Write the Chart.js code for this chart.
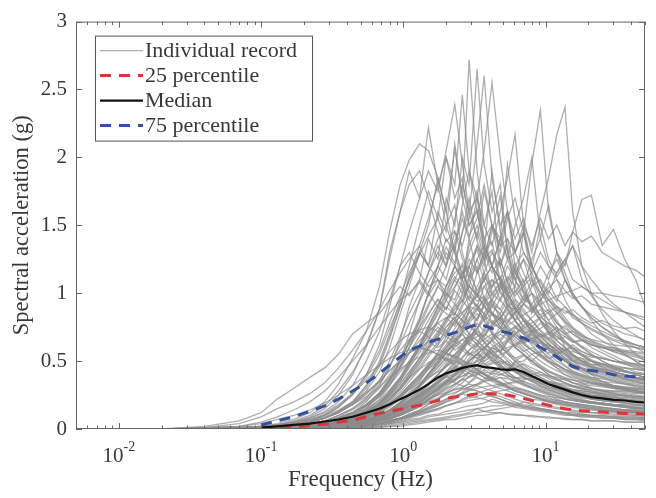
<!DOCTYPE html>
<html>
<head>
<meta charset="utf-8">
<script src="https://cdn.jsdelivr.net/npm/chart.js@4/dist/chart.umd.min.js"></script>
<style>
  html, body { margin: 0; padding: 0; background: #ffffff; }
  #wrap { width: 656px; height: 498px; }
</style>
</head>
<body>
<div id="wrap"><canvas id="c" width="656" height="498"></canvas></div>
<script>
// Frequencies (Hz) at which every individual record is sampled
const freq = [0.02,0.04,0.07,0.1,0.13,0.17,0.22,0.28,0.35,0.44,
  0.55,0.68,0.8,0.95,1.1,1.3,1.5,1.75,2.0,2.3,
  2.6,2.9,3.3,3.7,4.2,4.8,5.4,6.1,7.0,8.0,
  9.2,10.5,12,13.7,15.5,18,21,25,30,36,
  43,50];

// Spectral acceleration (g) of each individual record
const rec01 = [0,0,0,0.01,0.02,0.03,0.05,0.08,0.12,0.18, 0.28,0.42,0.6,0.85,1.05,1.3,1.2,1.6,1.45,2.1, 1.7,2.72,1.9,1.5,1.75,1.2,1.35,1.0,1.1,0.85, 0.95,0.7,0.75,0.6,0.55,0.5,0.45,0.42,0.4,0.37, 0.35,0.33];
const rec02 = [0,0,0,0.01,0.01,0.02,0.03,0.05,0.08,0.12, 0.2,0.32,0.45,0.65,0.9,1.1,1.4,1.25,1.7,1.5, 2.0,1.8,2.65,1.95,1.6,1.8,1.3,1.1,0.95,1.0, 0.8,0.7,0.6,0.55,0.5,0.45,0.4,0.35,0.32,0.3, 0.28,0.26];
const rec03 = [0,0,0,0,0.01,0.02,0.03,0.04,0.06,0.1, 0.15,0.25,0.35,0.5,0.7,0.95,1.15,1.35,1.2,1.55, 1.8,1.6,2.1,2.6,1.85,1.5,1.6,1.2,1.0,0.9, 0.8,0.75,0.65,0.6,0.55,0.5,0.5,0.45,0.42,0.4, 0.38,0.36];
const rec04 = [0,0,0,0,0.01,0.01,0.02,0.04,0.06,0.09, 0.14,0.22,0.32,0.45,0.6,0.8,1.0,1.2,1.4,1.3, 1.65,1.9,1.7,2.05,2.55,2.0,1.6,1.3,1.45,1.1, 0.9,0.85,0.75,0.7,0.65,0.6,0.55,0.5,0.46,0.43, 0.4,0.38];
const rec05 = [0,0,0,0.01,0.02,0.03,0.05,0.08,0.13,0.2, 0.32,0.5,0.7,0.95,1.2,1.5,1.75,1.55,2.0,1.8, 2.46,1.9,1.6,1.4,1.5,1.2,1.0,0.9,0.8,0.7, 0.65,0.6,0.55,0.5,0.45,0.42,0.38,0.35,0.32,0.3, 0.28,0.27];
const rec06 = [0,0,0,0.01,0.02,0.04,0.06,0.1,0.16,0.26, 0.4,0.62,0.9,1.2,1.45,1.7,1.9,1.75,2.05,2.39, 1.95,1.6,1.7,1.35,1.2,1.0,0.95,0.8,0.7,0.62, 0.55,0.5,0.45,0.4,0.37,0.34,0.3,0.28,0.26,0.24, 0.22,0.21];
const rec07 = [0,0,0.01,0.02,0.04,0.07,0.12,0.2,0.33,0.52, 0.72,1.05,1.45,1.8,1.98,2.1,2.05,1.85,1.6,1.3, 1.05,0.9,0.75,0.65,0.55,0.48,0.42,0.38,0.34,0.3, 0.27,0.25,0.22,0.2,0.19,0.18,0.17,0.16,0.15,0.14, 0.13,0.12];
const rec08 = [0,0,0,0.01,0.03,0.05,0.09,0.15,0.25,0.4, 0.62,0.88,1.3,1.6,1.9,1.7,2.22,1.8,1.5,1.65, 1.3,1.1,1.2,0.95,0.85,0.75,0.7,0.6,0.55,0.5, 0.45,0.4,0.37,0.34,0.32,0.3,0.28,0.26,0.24,0.22, 0.21,0.2];
const rec09 = [0,0,0,0,0.01,0.02,0.03,0.05,0.08,0.12, 0.18,0.26,0.36,0.5,0.65,0.8,1.0,1.15,1.3,1.2, 1.45,1.6,1.4,1.75,1.5,1.3,1.55,1.7,1.45,1.95, 2.35,1.6,1.3,1.1,1.0,0.9,0.8,0.7,0.62,0.55, 0.5,0.45];
const rec10 = [0,0,0,0,0,0.01,0.02,0.03,0.05,0.08, 0.12,0.18,0.25,0.35,0.46,0.6,0.75,0.9,1.05,1.2, 1.1,1.3,1.45,1.25,1.5,1.35,1.6,1.4,1.55,1.3, 1.6,1.85,2.17,2.37,1.6,1.2,1.0,0.85,0.72,0.63, 0.55,0.5];
const rec11 = [0,0,0,0,0.01,0.02,0.03,0.05,0.07,0.11, 0.17,0.26,0.36,0.5,0.65,0.82,1.0,1.2,1.1,1.35, 1.55,1.4,1.7,1.5,1.35,1.6,1.85,2.17,1.5,1.2, 1.05,0.9,0.8,0.7,0.65,0.6,0.55,0.5,0.46,0.43, 0.4,0.38];
const rec12 = [0,0,0,0,0.01,0.01,0.02,0.03,0.05,0.07, 0.1,0.15,0.22,0.3,0.4,0.52,0.65,0.8,0.95,1.1, 1.0,1.2,1.35,1.2,1.45,1.72,1.3,1.15,1.25,1.05, 1.2,1.1,1.3,1.2,1.45,1.69,1.72,1.35,1.47,1.25, 1.1,0.9];
const rec13 = [0,0,0,0,0.01,0.02,0.03,0.04,0.06,0.09, 0.14,0.2,0.28,0.38,0.5,0.62,0.75,0.88,1.0,0.95, 1.1,1.25,1.15,1.3,1.2,1.4,1.25,1.5,1.7,2.0, 1.4,1.2,1.1,0.95,0.85,0.78,0.7,0.65,0.6,0.55, 0.5,0.46];
const rec14 = [0,0,0.01,0.02,0.03,0.06,0.1,0.17,0.28,0.42, 0.6,0.88,1.25,1.6,1.8,1.9,1.7,1.45,1.25,1.35, 1.1,0.95,0.9,0.8,0.7,0.62,0.55,0.5,0.45,0.42, 0.38,0.35,0.33,0.3,0.28,0.26,0.25,0.24,0.22,0.21, 0.2,0.19];
const rec15 = [0,0,0,0.01,0.02,0.03,0.05,0.08,0.13,0.2, 0.32,0.48,0.68,0.9,1.1,1.3,1.5,1.85,1.6,2.06, 1.7,1.5,1.6,1.35,1.2,1.1,1.0,0.9,0.82,0.75, 0.68,0.62,0.57,0.52,0.48,0.44,0.41,0.38,0.35,0.33, 0.31,0.3];
const rec16 = [0,0,0,0,0,0.01,0.01,0.02,0.03,0.05, 0.07,0.1,0.14,0.2,0.27,0.35,0.45,0.56,0.68,0.8, 0.92,1.05,0.98,1.15,1.3,1.2,1.4,1.3,1.5,1.35, 1.55,1.4,1.5,1.35,1.45,1.38,1.42,1.3,1.25,1.2, 1.17,1.12];
const rec17 = [0,0,0,0,0,0,0.01,0.02,0.03,0.04, 0.06,0.09,0.13,0.18,0.24,0.31,0.4,0.5,0.6,0.7, 0.8,0.9,1.0,0.95,1.1,1.05,1.2,1.1,1.25,1.15, 1.3,1.2,1.15,1.25,1.1,1.05,1.0,1.0,0.98,0.97, 0.95,0.93];
const rec18 = [0,0,0,0.01,0.01,0.02,0.04,0.06,0.1,0.15, 0.23,0.35,0.5,0.68,0.85,1.0,1.15,1.3,1.2,1.45, 1.35,1.55,1.75,1.4,1.2,1.1,1.0,0.9,0.8,0.72, 0.65,0.58,0.52,0.47,0.43,0.4,0.37,0.34,0.32,0.3, 0.28,0.27];
const rec19 = [0,0,0,0,0.01,0.02,0.03,0.04,0.06,0.09, 0.13,0.19,0.27,0.37,0.48,0.6,0.72,0.85,0.95,1.05, 1.15,1.05,1.25,1.35,1.2,1.4,1.6,1.3,1.15,1.0, 0.9,0.8,0.72,0.65,0.6,0.55,0.5,0.46,0.42,0.4, 0.37,0.35];
const rec20 = [0,0,0,0.01,0.02,0.04,0.07,0.11,0.17,0.26, 0.4,0.58,0.78,0.98,1.15,1.3,1.2,1.4,1.5,1.3, 1.15,1.2,1.0,0.9,0.85,0.75,0.68,0.6,0.55,0.5, 0.45,0.4,0.37,0.34,0.31,0.29,0.27,0.25,0.23,0.22, 0.21,0.2];
const rec21 = [0,0,0,0,0.01,0.01,0.02,0.03,0.05,0.07, 0.1,0.15,0.21,0.29,0.38,0.48,0.58,0.68,0.78,0.88, 0.95,1.05,0.98,1.1,1.2,1.1,1.25,1.3,1.45,1.2, 1.05,0.95,0.88,0.8,0.74,0.68,0.63,0.58,0.54,0.5, 0.47,0.44];
const rec22 = [0,0,0.01,0.02,0.03,0.05,0.08,0.13,0.2,0.32, 0.5,0.72,0.95,1.2,1.3,1.15,1.05,1.1,0.95,0.85, 0.8,0.7,0.65,0.6,0.55,0.5,0.45,0.42,0.38,0.35, 0.32,0.3,0.28,0.26,0.24,0.22,0.2,0.19,0.18,0.17, 0.16,0.15];
const rec23 = [0,0,0,0,0,0.01,0.01,0.02,0.03,0.05, 0.07,0.1,0.14,0.19,0.25,0.32,0.4,0.48,0.56,0.64, 0.7,0.78,0.85,0.8,0.92,0.88,0.98,1.05,0.95,1.1, 1.0,1.15,1.25,1.1,0.98,0.9,0.82,0.75,0.7,0.65, 0.62,0.6];
const rec24 = [0,0.01,0.02,0.05,0.09,0.14,0.2,0.28,0.38,0.5, 0.62,0.75,0.85,0.95,1.0,1.08,0.98,1.1,1.05,1.15, 1.2,1.0,0.9,0.8,0.72,0.65,0.58,0.52,0.47,0.43, 0.4,0.37,0.34,0.31,0.29,0.27,0.25,0.24,0.22,0.21, 0.2,0.19];
const rec25 = [0,0.02,0.06,0.12,0.22,0.3,0.38,0.45,0.55,0.7, 0.78,0.85,0.95,1.05,0.98,1.1,1.0,0.9,0.85,0.8, 0.72,0.68,0.62,0.56,0.5,0.46,0.42,0.38,0.35,0.32, 0.3,0.28,0.26,0.24,0.22,0.2,0.19,0.18,0.17,0.16, 0.15,0.14];
const rec26 = [0,0.01,0.04,0.09,0.15,0.2,0.26,0.34,0.45,0.58, 0.72,0.88,1.02,1.15,1.25,1.35,1.2,1.1,1.0,0.92, 0.85,0.78,0.7,0.64,0.58,0.52,0.47,0.43,0.4,0.37, 0.34,0.31,0.29,0.27,0.25,0.23,0.22,0.21,0.2,0.19, 0.18,0.17];
const rec27 = [0,0,0,0,0.01,0.01,0.02,0.03,0.05,0.07, 0.1,0.14,0.2,0.27,0.35,0.44,0.53,0.62,0.7,0.78, 0.85,0.92,0.98,1.05,1.1,0.95,0.88,0.8,0.72,0.66, 0.6,0.55,0.5,0.46,0.42,0.39,0.36,0.33,0.31,0.29, 0.27,0.26];
const rec28 = [0,0,0,0,0,0,0.01,0.01,0.02,0.03, 0.05,0.07,0.1,0.14,0.19,0.25,0.32,0.4,0.48,0.55, 0.62,0.68,0.74,0.8,0.85,0.82,0.9,0.88,0.95,0.92, 1.0,0.95,0.9,0.85,0.88,0.82,0.78,0.8,0.76,0.74, 0.75,0.72];
const rec29 = [0,0,0,0,0.01,0.02,0.03,0.04,0.06,0.09, 0.13,0.18,0.25,0.33,0.42,0.52,0.6,0.68,0.75,0.82, 0.86,0.9,0.88,0.95,0.85,0.78,0.7,0.64,0.58,0.52, 0.47,0.43,0.4,0.37,0.34,0.32,0.3,0.28,0.26,0.25, 0.24,0.23];
const rec30 = [0,0,0,0,0,0,0,0.01,0.01,0.02, 0.03,0.05,0.07,0.1,0.13,0.17,0.22,0.28,0.34,0.4, 0.46,0.52,0.58,0.63,0.68,0.72,0.76,0.8,0.84,0.88, 0.92,0.95,0.98,1.0,1.02,1.05,1.0,0.95,0.9,0.86, 0.83,0.8];
const rec31 = [0,0,0,0.01,0.01,0.02,0.03,0.05,0.08,0.12, 0.18,0.26,0.36,0.46,0.56,0.65,0.72,0.78,0.82,0.85, 0.8,0.76,0.7,0.64,0.58,0.52,0.47,0.42,0.38,0.35, 0.32,0.29,0.27,0.25,0.23,0.21,0.2,0.19,0.18,0.17, 0.16,0.15];
const rec32 = [0,0,0,0,0,0.01,0.01,0.02,0.03,0.05, 0.07,0.1,0.14,0.19,0.25,0.31,0.37,0.43,0.5,0.55, 0.6,0.65,0.68,0.72,0.75,0.78,0.8,0.76,0.7,0.64, 0.58,0.53,0.48,0.44,0.41,0.38,0.35,0.33,0.31,0.29, 0.28,0.27];
const rec33 = [0,0,0,0,0.01,0.01,0.02,0.03,0.05,0.07, 0.1,0.14,0.19,0.25,0.32,0.39,0.46,0.52,0.58,0.62, 0.66,0.68,0.7,0.67,0.62,0.57,0.52,0.47,0.43,0.39, 0.36,0.33,0.3,0.28,0.26,0.24,0.22,0.21,0.2,0.19, 0.18,0.17];
const rec34 = [0,0,0,0,0,0,0.01,0.01,0.02,0.03, 0.04,0.06,0.08,0.11,0.15,0.19,0.24,0.29,0.34,0.39, 0.43,0.47,0.5,0.53,0.56,0.58,0.6,0.62,0.64,0.65, 0.63,0.61,0.6,0.58,0.57,0.55,0.53,0.52,0.5,0.49, 0.48,0.47];
const rec35 = [0,0,0,0,0.01,0.01,0.02,0.03,0.05,0.08, 0.12,0.17,0.24,0.31,0.38,0.44,0.49,0.52,0.55,0.54, 0.51,0.48,0.44,0.41,0.37,0.34,0.31,0.28,0.26,0.24, 0.22,0.2,0.19,0.18,0.17,0.16,0.15,0.14,0.13,0.13, 0.12,0.12];
const rec36 = [0,0,0,0,0,0,0.01,0.01,0.02,0.03, 0.05,0.07,0.1,0.13,0.17,0.21,0.25,0.29,0.33,0.36, 0.39,0.42,0.44,0.46,0.48,0.5,0.48,0.45,0.42,0.39, 0.36,0.33,0.3,0.28,0.26,0.24,0.22,0.21,0.2,0.19, 0.18,0.17];
const rec37 = [0,0,0,0,0,0.01,0.01,0.02,0.03,0.04, 0.06,0.08,0.11,0.15,0.19,0.23,0.27,0.31,0.34,0.37, 0.39,0.41,0.42,0.4,0.37,0.34,0.31,0.28,0.26,0.24, 0.22,0.2,0.18,0.17,0.16,0.15,0.14,0.13,0.12,0.12, 0.11,0.11];
const rec38 = [0,0,0,0,0,0,0,0.01,0.01,0.02, 0.03,0.04,0.06,0.08,0.1,0.13,0.16,0.19,0.22,0.24, 0.26,0.28,0.3,0.31,0.32,0.33,0.34,0.34,0.35,0.33, 0.31,0.29,0.27,0.25,0.23,0.21,0.2,0.19,0.18,0.17, 0.16,0.15];
const rec39 = [0,0,0,0,0,0.01,0.01,0.02,0.03,0.04, 0.06,0.08,0.11,0.14,0.17,0.2,0.23,0.25,0.27,0.29, 0.3,0.29,0.28,0.26,0.24,0.22,0.2,0.18,0.16,0.15, 0.14,0.13,0.12,0.11,0.1,0.1,0.09,0.09,0.08,0.08, 0.08,0.07];
const rec40 = [0,0,0,0,0,0,0,0.01,0.01,0.02, 0.03,0.04,0.05,0.07,0.09,0.11,0.13,0.15,0.17,0.19, 0.2,0.21,0.22,0.23,0.25,0.24,0.22,0.2,0.18,0.17, 0.15,0.14,0.13,0.12,0.11,0.1,0.1,0.09,0.09,0.08, 0.08,0.08];
const rec41 = [0,0,0,0,0,0,0,0,0.01,0.01, 0.02,0.03,0.04,0.05,0.06,0.07,0.09,0.1,0.11,0.12, 0.13,0.14,0.15,0.16,0.17,0.17,0.18,0.17,0.16,0.15, 0.14,0.13,0.12,0.11,0.1,0.09,0.09,0.08,0.08,0.07, 0.07,0.06];
const rec42 = [0,0.01,0.02,0.04,0.07,0.1,0.14,0.19,0.25,0.32, 0.4,0.47,0.52,0.56,0.58,0.6,0.58,0.55,0.52,0.5, 0.47,0.44,0.41,0.38,0.35,0.32,0.3,0.28,0.26,0.24, 0.22,0.21,0.2,0.19,0.18,0.17,0.16,0.15,0.14,0.13, 0.13,0.12];
const rec43 = [0,0,0,0,0,0,0,0.01,0.01,0.02, 0.03,0.04,0.06,0.08,0.11,0.14,0.18,0.22,0.27,0.32, 0.37,0.42,0.47,0.52,0.57,0.62,0.66,0.7,0.74,0.78, 0.82,0.86,0.9,0.87,0.84,0.8,0.76,0.72,0.68,0.65, 0.62,0.6];
const rec44 = [0,0,0,0,0.01,0.02,0.03,0.05,0.08,0.12, 0.18,0.27,0.38,0.5,0.64,0.78,0.92,1.05,0.98,1.2, 1.1,1.4,1.15,1.25,1.0,1.08,0.9,0.8,0.72,0.65, 0.58,0.52,0.47,0.43,0.4,0.37,0.34,0.32,0.3,0.28, 0.27,0.26];
const rec45 = [0,0,0,0,0,0.01,0.01,0.02,0.03,0.05, 0.07,0.1,0.14,0.19,0.25,0.32,0.4,0.48,0.56,0.64, 0.72,0.8,0.88,0.82,0.95,1.05,0.98,1.15,1.05,1.25, 1.4,1.65,1.3,1.15,1.0,0.9,0.82,0.75,0.69,0.64, 0.6,0.56];
const rec46 = [0,0,0,0,0.01,0.01,0.02,0.04,0.06,0.09, 0.13,0.19,0.27,0.37,0.49,0.62,0.76,0.9,1.05,1.2, 1.1,1.35,1.5,1.3,1.9,1.45,1.25,1.1,1.0,0.9, 0.8,0.72,0.65,0.6,0.55,0.5,0.46,0.43,0.4,0.37, 0.35,0.33];
const rec47 = [0,0,0,0,0,0,0.01,0.01,0.02,0.03, 0.05,0.07,0.1,0.13,0.17,0.22,0.28,0.35,0.42,0.5, 0.58,0.66,0.74,0.82,0.9,0.85,0.95,1.02,0.92,1.05, 1.1,1.0,1.15,1.25,1.35,1.2,1.1,1.0,0.92,0.86, 0.8,0.75];
const rec48 = [0,0,0.01,0.02,0.03,0.05,0.08,0.12,0.18,0.26, 0.36,0.47,0.57,0.65,0.7,0.73,0.75,0.72,0.68,0.64, 0.6,0.56,0.52,0.48,0.44,0.41,0.38,0.35,0.32,0.3, 0.28,0.26,0.24,0.22,0.21,0.2,0.19,0.18,0.17,0.16, 0.15,0.15];
const rec49 = [0,0,0,0,0,0.01,0.01,0.02,0.03,0.05, 0.07,0.1,0.13,0.17,0.21,0.26,0.3,0.34,0.38,0.41, 0.45,0.43,0.41,0.38,0.36,0.33,0.31,0.29,0.27,0.25, 0.23,0.21,0.2,0.19,0.18,0.17,0.16,0.15,0.14,0.14, 0.13,0.13];
const rec50 = [0,0,0,0,0,0,0.01,0.01,0.02,0.03, 0.04,0.06,0.08,0.1,0.13,0.16,0.19,0.22,0.25,0.27, 0.29,0.31,0.33,0.35,0.36,0.38,0.37,0.35,0.33,0.31, 0.29,0.27,0.25,0.23,0.22,0.21,0.2,0.19,0.18,0.17, 0.16,0.16];
const rec51 = [0,0,0,0,0,0.01,0.01,0.02,0.03,0.05, 0.07,0.1,0.14,0.18,0.23,0.28,0.33,0.37,0.42,0.46, 0.43,0.5,0.55,0.48,0.51,0.44,0.4,0.36,0.33,0.3, 0.28,0.26,0.24,0.22,0.21,0.2,0.19,0.18,0.17,0.16, 0.15,0.15];
const rec52 = [0,0,0,0,0,0,0,0.01,0.01,0.02, 0.03,0.04,0.05,0.07,0.09,0.11,0.13,0.15,0.17,0.19, 0.21,0.23,0.24,0.26,0.27,0.28,0.29,0.3,0.29,0.27, 0.25,0.23,0.21,0.2,0.19,0.18,0.17,0.16,0.15,0.14, 0.14,0.13];
const rec53 = [0,0,0,0.01,0.02,0.03,0.05,0.08,0.12,0.18, 0.26,0.35,0.43,0.5,0.56,0.6,0.58,0.55,0.51,0.47, 0.44,0.41,0.38,0.35,0.32,0.3,0.28,0.26,0.24,0.22, 0.21,0.2,0.19,0.18,0.17,0.16,0.15,0.14,0.13,0.13, 0.12,0.12];
const rec54 = [0,0,0,0,0,0,0,0,0.01,0.01, 0.02,0.03,0.04,0.05,0.07,0.08,0.1,0.11,0.13,0.14, 0.16,0.17,0.18,0.19,0.22,0.2,0.19,0.18,0.17,0.16, 0.15,0.14,0.13,0.12,0.11,0.11,0.1,0.1,0.09,0.09, 0.09,0.08];
const rec55 = [0,0,0,0,0,0.01,0.01,0.02,0.03,0.04, 0.06,0.09,0.12,0.16,0.2,0.25,0.3,0.35,0.4,0.45, 0.5,0.47,0.55,0.6,0.65,0.56,0.5,0.45,0.41,0.37, 0.34,0.31,0.29,0.27,0.25,0.24,0.23,0.22,0.21,0.2, 0.19,0.18];
const rec56 = [0,0,0,0,0,0,0,0,0,0.01, 0.01,0.02,0.03,0.04,0.05,0.06,0.07,0.08,0.09,0.1, 0.11,0.12,0.15,0.13,0.12,0.12,0.11,0.1,0.1,0.09, 0.09,0.08,0.08,0.07,0.07,0.07,0.06,0.06,0.06,0.05, 0.05,0.05];
const rec57 = [0,0,0,0,0,0,0,0.01,0.01,0.02, 0.02,0.03,0.04,0.06,0.08,0.1,0.12,0.14,0.17,0.19, 0.22,0.24,0.26,0.28,0.3,0.32,0.33,0.35,0.36,0.38, 0.4,0.39,0.38,0.37,0.36,0.35,0.34,0.33,0.32,0.31, 0.3,0.3];
const rec58 = [0,0,0,0,0.01,0.01,0.02,0.03,0.05,0.07, 0.1,0.14,0.19,0.24,0.29,0.34,0.38,0.42,0.46,0.5, 0.48,0.46,0.43,0.4,0.37,0.34,0.31,0.28,0.26,0.24, 0.22,0.2,0.19,0.18,0.17,0.16,0.15,0.14,0.13,0.12, 0.12,0.11];
const rec59 = [0,0,0,0,0,0,0.01,0.01,0.02,0.03, 0.04,0.06,0.08,0.11,0.14,0.17,0.2,0.23,0.26,0.29, 0.31,0.33,0.32,0.3,0.28,0.26,0.24,0.22,0.2,0.19, 0.18,0.17,0.16,0.15,0.14,0.13,0.12,0.12,0.11,0.11, 0.1,0.1];
const rec60 = [0,0,0,0,0,0,0.01,0.01,0.02,0.03, 0.05,0.07,0.1,0.13,0.17,0.21,0.26,0.31,0.36,0.41, 0.46,0.5,0.55,0.52,0.6,0.64,0.72,0.6,0.55,0.5, 0.46,0.42,0.39,0.36,0.34,0.32,0.3,0.28,0.27,0.26, 0.25,0.24];
const rec61 = [0,0,0,0,0,0,0,0.01,0.01,0.02, 0.03,0.04,0.06,0.08,0.1,0.12,0.15,0.17,0.2,0.22, 0.26,0.24,0.23,0.22,0.2,0.19,0.18,0.16,0.15,0.14, 0.13,0.12,0.11,0.1,0.1,0.09,0.09,0.08,0.08,0.07, 0.07,0.07];
const rec62 = [0,0,0,0,0,0,0,0.01,0.01,0.02, 0.03,0.04,0.05,0.07,0.09,0.12,0.14,0.17,0.2,0.23, 0.26,0.29,0.32,0.35,0.37,0.4,0.42,0.45,0.48,0.45, 0.42,0.39,0.36,0.34,0.32,0.3,0.28,0.27,0.26,0.25, 0.24,0.23];
const rec63 = [0,0,0.01,0.02,0.03,0.04,0.06,0.09,0.13,0.18, 0.24,0.31,0.38,0.44,0.49,0.53,0.56,0.58,0.56,0.53, 0.5,0.47,0.44,0.41,0.38,0.35,0.32,0.3,0.28,0.26, 0.24,0.22,0.21,0.2,0.19,0.18,0.17,0.16,0.15,0.14, 0.14,0.13];
const rec64 = [0,0,0,0,0,0,0,0,0,0, 0.01,0.01,0.02,0.02,0.03,0.04,0.05,0.06,0.07,0.07, 0.08,0.09,0.1,0.1,0.11,0.12,0.11,0.11,0.1,0.1, 0.09,0.09,0.08,0.08,0.07,0.07,0.06,0.06,0.06,0.05, 0.05,0.05];
const rec65 = [0,0,0,0,0,0,0.01,0.01,0.02,0.03, 0.04,0.06,0.08,0.11,0.14,0.18,0.22,0.26,0.3,0.33, 0.36,0.38,0.4,0.42,0.41,0.4,0.39,0.38,0.37,0.36, 0.35,0.34,0.33,0.32,0.31,0.3,0.29,0.28,0.28,0.27, 0.26,0.26];
const rec66 = [0,0,0,0,0,0.01,0.01,0.02,0.03,0.05, 0.07,0.1,0.13,0.17,0.21,0.25,0.29,0.32,0.36,0.34, 0.32,0.3,0.28,0.26,0.24,0.22,0.2,0.19,0.17,0.16, 0.15,0.14,0.13,0.12,0.12,0.11,0.1,0.1,0.09,0.09, 0.09,0.08];
const rec67 = [0,0,0,0,0,0.01,0.02,0.03,0.04,0.06, 0.09,0.13,0.18,0.24,0.3,0.37,0.44,0.5,0.56,0.62, 0.58,0.68,0.74,0.85,0.7,0.62,0.56,0.5,0.45,0.41, 0.38,0.35,0.32,0.3,0.28,0.26,0.24,0.23,0.22,0.21, 0.2,0.19];
const rec68 = [0,0,0,0,0,0,0,0,0,0.01, 0.01,0.02,0.02,0.03,0.04,0.05,0.06,0.07,0.08,0.09, 0.1,0.11,0.12,0.13,0.14,0.15,0.16,0.17,0.2,0.18, 0.17,0.16,0.15,0.14,0.13,0.12,0.12,0.11,0.1,0.1, 0.1,0.09];
const rec69 = [0,0,0,0,0.01,0.02,0.03,0.05,0.08,0.12, 0.17,0.24,0.32,0.42,0.5,0.6,0.68,0.62,0.75,0.82, 0.74,0.88,0.8,0.92,0.78,0.85,0.7,0.76,0.64,0.7, 0.6,0.63,0.55,0.58,0.5,0.52,0.47,0.48,0.44,0.45, 0.42,0.41];
const rec70 = [0,0,0,0,0,0.01,0.02,0.03,0.04,0.06, 0.09,0.13,0.18,0.25,0.32,0.4,0.48,0.55,0.5,0.62, 0.7,0.64,0.78,0.72,0.85,0.8,0.92,0.86,0.98,0.9, 0.84,0.88,0.78,0.74,0.7,0.66,0.64,0.6,0.58,0.56, 0.54,0.52];
const rec71 = [0,0,0,0.01,0.01,0.02,0.04,0.06,0.09,0.14, 0.21,0.3,0.4,0.52,0.63,0.75,0.85,0.95,0.88,1.02, 0.94,1.1,0.98,0.9,0.95,0.8,0.74,0.68,0.62,0.58, 0.54,0.5,0.47,0.44,0.42,0.4,0.38,0.37,0.35,0.34, 0.33,0.32];
const rec72 = [0,0,0,0,0,0.01,0.01,0.02,0.03,0.05, 0.07,0.1,0.14,0.19,0.25,0.31,0.38,0.45,0.52,0.48, 0.58,0.64,0.6,0.7,0.66,0.75,0.68,0.72,0.63,0.67, 0.6,0.56,0.58,0.52,0.5,0.48,0.46,0.44,0.43,0.42, 0.41,0.4];
const rec73 = [0,0,0,0,0.01,0.01,0.02,0.04,0.06,0.09, 0.13,0.19,0.26,0.35,0.45,0.56,0.66,0.75,0.7,0.85, 0.95,0.88,1.05,1.15,0.98,1.08,0.9,0.95,0.82,0.76, 0.7,0.65,0.6,0.56,0.52,0.49,0.46,0.44,0.42,0.4, 0.38,0.37];
const rec74 = [0,0,0,0,0,0,0.01,0.01,0.02,0.03, 0.05,0.07,0.1,0.13,0.17,0.22,0.27,0.33,0.39,0.45, 0.42,0.5,0.56,0.52,0.6,0.57,0.65,0.6,0.68,0.63, 0.7,0.66,0.72,0.68,0.64,0.66,0.62,0.6,0.58,0.57, 0.56,0.55];
const rec75 = [0,0,0,0.01,0.02,0.03,0.05,0.08,0.12,0.18, 0.26,0.36,0.47,0.58,0.66,0.72,0.68,0.78,0.72,0.66, 0.7,0.62,0.58,0.6,0.52,0.48,0.5,0.44,0.41,0.38, 0.36,0.34,0.32,0.3,0.29,0.28,0.27,0.26,0.25,0.24, 0.23,0.22];
const rec76 = [0,0,0,0,0,0.01,0.01,0.02,0.04,0.06, 0.08,0.12,0.16,0.22,0.29,0.36,0.44,0.52,0.6,0.68, 0.76,0.7,0.82,0.9,0.84,0.96,1.05,0.92,0.86,0.8, 0.72,0.66,0.6,0.55,0.51,0.48,0.45,0.43,0.41,0.39, 0.37,0.36];
const rec77 = [0,0,0,0,0,0,0.01,0.01,0.02,0.03, 0.04,0.06,0.08,0.11,0.14,0.18,0.22,0.27,0.32,0.37, 0.42,0.47,0.44,0.5,0.55,0.52,0.58,0.62,0.57,0.6, 0.55,0.52,0.54,0.5,0.47,0.45,0.43,0.42,0.4,0.39, 0.38,0.37];
const rec78 = [0,0,0,0,0.01,0.02,0.03,0.05,0.07,0.1, 0.15,0.21,0.29,0.38,0.48,0.58,0.7,0.8,0.9,0.84, 1.0,1.12,1.25,1.1,1.2,1.02,0.92,0.84,0.76,0.7, 0.64,0.59,0.55,0.51,0.48,0.45,0.43,0.41,0.39,0.37, 0.36,0.35];
const rec79 = [0,0,0,0,0,0.01,0.01,0.02,0.03,0.04, 0.06,0.09,0.12,0.16,0.21,0.27,0.33,0.4,0.46,0.52, 0.58,0.54,0.62,0.58,0.66,0.6,0.56,0.52,0.55,0.48, 0.45,0.42,0.4,0.38,0.36,0.34,0.33,0.32,0.31,0.3, 0.29,0.28];
const rec80 = [0,0,0,0,0,0,0,0.01,0.01,0.02, 0.03,0.05,0.07,0.1,0.13,0.17,0.21,0.26,0.31,0.36, 0.41,0.46,0.51,0.56,0.52,0.6,0.65,0.7,0.76,0.82, 0.88,0.8,0.85,0.9,0.82,0.78,0.74,0.7,0.66,0.64, 0.62,0.6];
const rec81 = [0,0,0,0,0.01,0.01,0.02,0.03,0.05,0.07, 0.1,0.14,0.19,0.25,0.32,0.4,0.47,0.54,0.6,0.66, 0.62,0.7,0.65,0.6,0.56,0.52,0.48,0.44,0.41,0.38, 0.35,0.33,0.31,0.29,0.27,0.26,0.25,0.24,0.23,0.22, 0.21,0.2];
const rec82 = [0,0,0,0,0,0.01,0.02,0.03,0.05,0.08, 0.12,0.17,0.23,0.31,0.4,0.5,0.6,0.7,0.8,0.92, 1.05,0.95,1.15,1.3,1.15,1.25,1.08,0.98,1.05,0.88, 0.8,0.74,0.68,0.63,0.58,0.54,0.5,0.47,0.45,0.43, 0.41,0.4];
const rec83 = [0,0,0,0,0,0,0.01,0.01,0.02,0.03, 0.04,0.06,0.09,0.12,0.16,0.2,0.25,0.3,0.35,0.4, 0.45,0.5,0.55,0.6,0.65,0.7,0.66,0.74,0.8,0.75, 0.82,0.78,0.72,0.76,0.7,0.65,0.62,0.6,0.57,0.55, 0.53,0.51];
const rec84 = [0,0,0,0,0,0.01,0.01,0.02,0.03,0.05, 0.07,0.1,0.13,0.17,0.22,0.28,0.34,0.4,0.46,0.52, 0.48,0.56,0.52,0.58,0.5,0.47,0.44,0.42,0.4,0.38, 0.36,0.35,0.34,0.33,0.32,0.31,0.3,0.29,0.28,0.28, 0.27,0.27];
const rec85 = [0,0,0,0,0,0,0,0.01,0.01,0.02, 0.03,0.04,0.06,0.08,0.11,0.14,0.18,0.22,0.26,0.3, 0.34,0.39,0.41,0.47,0.49,0.55,0.57,0.63,0.65,0.71, 0.74,0.78,0.74,0.7,0.72,0.68,0.66,0.64,0.62,0.61, 0.6,0.59];
const rec86 = [0,0,0,0,0.01,0.01,0.02,0.04,0.06,0.09, 0.13,0.18,0.25,0.33,0.42,0.52,0.62,0.72,0.82,0.76, 0.9,0.98,0.9,1.05,0.95,0.88,0.8,0.86,0.74,0.68, 0.63,0.58,0.54,0.5,0.47,0.44,0.42,0.4,0.38,0.36, 0.35,0.34];
const rec87 = [0,0,0,0,0,0,0.01,0.01,0.02,0.03, 0.05,0.07,0.1,0.14,0.18,0.23,0.28,0.34,0.4,0.46, 0.52,0.58,0.64,0.7,0.76,0.82,0.88,0.8,0.92,1.0, 0.94,1.08,0.96,0.9,0.84,0.78,0.73,0.69,0.65,0.62, 0.6,0.58];
const rec88 = [0,0,0,0,0,0.01,0.01,0.02,0.03,0.04, 0.06,0.08,0.11,0.15,0.19,0.24,0.29,0.34,0.39,0.43, 0.47,0.44,0.5,0.46,0.42,0.45,0.4,0.37,0.39,0.35, 0.33,0.31,0.3,0.29,0.28,0.27,0.26,0.25,0.24,0.23, 0.23,0.22];
const rec89 = [0,0,0,0,0.01,0.02,0.03,0.05,0.08,0.12, 0.17,0.24,0.33,0.44,0.56,0.68,0.8,0.92,1.02,1.12, 1.05,1.2,1.32,1.15,1.05,1.12,0.95,0.88,0.8,0.74, 0.68,0.63,0.58,0.54,0.5,0.47,0.44,0.42,0.4,0.38, 0.37,0.36];
const rec90 = [0,0,0,0,0,0,0.01,0.01,0.02,0.03, 0.04,0.06,0.08,0.11,0.15,0.19,0.24,0.29,0.34,0.39, 0.44,0.49,0.46,0.54,0.6,0.56,0.64,0.7,0.65,0.72, 0.78,0.72,0.68,0.64,0.6,0.57,0.54,0.52,0.5,0.48, 0.47,0.46];
const rec91 = [0,0,0,0,0,0.01,0.02,0.03,0.04,0.06, 0.09,0.13,0.18,0.24,0.31,0.38,0.46,0.54,0.62,0.7, 0.78,0.86,0.8,0.92,1.0,0.94,1.08,1.18,1.05,1.12, 0.96,0.86,0.78,0.72,0.66,0.61,0.57,0.53,0.5,0.48, 0.46,0.44];
const rec92 = [0,0,0,0,0,0,0,0.01,0.01,0.02, 0.03,0.04,0.05,0.07,0.09,0.12,0.15,0.18,0.21,0.24, 0.27,0.31,0.33,0.37,0.38,0.43,0.44,0.49,0.5,0.55, 0.57,0.6,0.56,0.58,0.54,0.52,0.5,0.48,0.46,0.45, 0.44,0.43];
const rec93 = [0,0,0,0,0.01,0.01,0.02,0.03,0.05,0.08, 0.11,0.16,0.22,0.29,0.37,0.46,0.55,0.64,0.72,0.8, 0.74,0.86,0.92,0.84,0.78,0.82,0.72,0.66,0.6,0.55, 0.5,0.46,0.43,0.4,0.38,0.36,0.34,0.33,0.32,0.31, 0.3,0.29];
const rec94 = [0,0,0,0,0,0,0.01,0.01,0.02,0.03, 0.05,0.07,0.09,0.12,0.16,0.2,0.25,0.3,0.35,0.4, 0.45,0.5,0.55,0.6,0.66,0.72,0.78,0.85,0.92,0.86, 0.95,1.02,0.94,1.1,0.98,0.9,0.84,0.78,0.74,0.7, 0.68,0.66];
const rec95 = [0,0,0,0,0,0.01,0.01,0.02,0.03,0.04, 0.06,0.08,0.11,0.15,0.19,0.24,0.29,0.34,0.39,0.35, 0.42,0.38,0.44,0.4,0.36,0.38,0.34,0.31,0.29,0.27, 0.25,0.24,0.23,0.22,0.21,0.2,0.19,0.19,0.18,0.18, 0.17,0.17];
const rec96 = [0,0,0,0.01,0.01,0.02,0.03,0.05,0.08,0.12, 0.18,0.26,0.36,0.48,0.6,0.72,0.84,0.96,0.88,1.04, 1.16,1.02,0.94,0.98,0.86,0.8,0.74,0.68,0.63,0.58, 0.54,0.5,0.47,0.44,0.41,0.39,0.37,0.35,0.34,0.33, 0.32,0.31];
const rec97 = [0,0,0,0,0,0,0,0.01,0.01,0.02, 0.03,0.04,0.06,0.08,0.1,0.13,0.16,0.19,0.22,0.26, 0.3,0.34,0.38,0.35,0.42,0.46,0.43,0.5,0.54,0.5, 0.56,0.6,0.55,0.58,0.62,0.57,0.54,0.52,0.5,0.49, 0.48,0.47];
const rec98 = [0,0,0,0,0,0.01,0.01,0.02,0.03,0.05, 0.07,0.1,0.14,0.19,0.25,0.32,0.4,0.48,0.56,0.64, 0.72,0.8,0.88,0.96,0.9,1.02,1.1,1.22,1.08,1.15, 1.0,0.92,0.85,0.79,0.74,0.69,0.65,0.62,0.59,0.57, 0.55,0.53];
const rec99 = [0,0,0,0,0,0,0.01,0.01,0.02,0.03, 0.04,0.06,0.08,0.11,0.14,0.17,0.21,0.25,0.29,0.33, 0.37,0.34,0.4,0.44,0.4,0.46,0.42,0.48,0.44,0.4, 0.42,0.38,0.36,0.37,0.34,0.33,0.32,0.31,0.3,0.3, 0.29,0.29];
const rec100 = [0,0,0,0,0,0.01,0.01,0.02,0.03,0.05, 0.07,0.1,0.14,0.19,0.25,0.32,0.4,0.48,0.56,0.52, 0.6,0.68,0.62,0.74,0.8,0.74,0.86,0.8,0.72,0.66, 0.7,0.62,0.58,0.6,0.54,0.5,0.48,0.46,0.44,0.42, 0.41,0.4];
const rec101 = [0,0,0,0.01,0.02,0.03,0.05,0.08,0.12,0.19, 0.3,0.46,0.66,0.9,1.12,1.35,1.55,1.8,2.0,1.7, 1.85,1.5,1.62,1.3,1.38,1.1,1.0,0.88,0.8,0.72, 0.65,0.6,0.55,0.5,0.46,0.43,0.4,0.38,0.36,0.34, 0.32,0.31];
const rec102 = [0,0,0,0,0.01,0.02,0.03,0.05,0.07,0.11, 0.16,0.24,0.34,0.46,0.6,0.75,0.9,1.05,1.2,1.38, 1.6,1.42,1.55,1.8,1.5,1.35,1.4,1.15,1.02,0.92, 0.84,0.76,0.7,0.64,0.59,0.55,0.51,0.48,0.45,0.42, 0.4,0.38];
const rec103 = [0,0,0,0,0.01,0.01,0.02,0.04,0.06,0.09, 0.13,0.19,0.27,0.36,0.47,0.6,0.73,0.86,0.98,1.1, 1.22,1.12,1.35,1.25,1.5,1.4,1.95,1.55,1.3,1.2, 1.05,0.95,0.86,0.78,0.72,0.66,0.6,0.56,0.52,0.48, 0.45,0.43];
const rec104 = [0,0,0,0.01,0.02,0.04,0.06,0.1,0.16,0.25, 0.38,0.55,0.74,0.92,1.1,1.28,1.42,1.55,1.38,1.46, 1.25,1.15,1.02,1.1,0.92,0.84,0.76,0.7,0.64,0.58, 0.53,0.49,0.45,0.42,0.39,0.36,0.34,0.32,0.3,0.29, 0.28,0.27];
const rec105 = [0,0,0,0,0,0.01,0.01,0.02,0.04,0.06, 0.08,0.12,0.17,0.23,0.3,0.38,0.47,0.56,0.65,0.74, 0.82,0.9,0.98,0.92,1.05,1.12,1.02,1.2,1.3,1.18, 1.5,1.25,1.12,1.22,1.35,1.1,0.98,0.88,0.8,0.74, 0.69,0.65];
const rec106 = [0,0,0,0.01,0.01,0.02,0.04,0.06,0.1,0.15, 0.22,0.33,0.46,0.62,0.78,0.94,1.08,1.2,1.34,1.22, 1.45,1.7,1.38,1.25,1.32,1.08,0.98,0.88,0.8,0.72, 0.66,0.6,0.55,0.51,0.47,0.44,0.41,0.39,0.37,0.35, 0.34,0.33];
const rec107 = [0,0,0,0,0,0.01,0.01,0.02,0.03,0.05, 0.07,0.1,0.14,0.19,0.25,0.32,0.39,0.46,0.53,0.6, 0.66,0.62,0.72,0.68,0.78,0.74,0.84,0.9,0.8,0.76, 0.68,0.72,0.62,0.58,0.6,0.54,0.5,0.48,0.47,0.45, 0.44,0.43];
const rec108 = [0,0,0,0,0,0,0.01,0.01,0.02,0.03, 0.05,0.07,0.1,0.14,0.19,0.24,0.3,0.36,0.42,0.48, 0.53,0.58,0.62,0.66,0.7,0.66,0.72,0.75,0.7,0.73, 0.68,0.7,0.66,0.68,0.64,0.65,0.62,0.6,0.6,0.58, 0.57,0.56];
const rec109 = [0,0,0,0,0.01,0.01,0.02,0.03,0.05,0.08, 0.11,0.16,0.22,0.3,0.39,0.49,0.6,0.7,0.8,0.9, 0.98,1.06,0.98,1.12,1.04,1.25,1.08,0.96,0.88,0.8, 0.73,0.67,0.62,0.57,0.53,0.5,0.47,0.44,0.42,0.4, 0.38,0.37];
const rec110 = [0,0,0,0,0,0,0.01,0.01,0.02,0.04, 0.05,0.08,0.11,0.15,0.2,0.26,0.33,0.4,0.47,0.54, 0.6,0.66,0.72,0.68,0.76,0.82,0.78,0.86,0.92,0.88, 0.98,1.04,1.1,1.02,0.96,0.98,0.92,0.9,0.88,0.86, 0.84,0.82];
const rec111 = [0,0,0.01,0.02,0.03,0.05,0.07,0.1,0.14,0.2, 0.27,0.35,0.43,0.5,0.56,0.6,0.64,0.6,0.65,0.58, 0.62,0.55,0.58,0.5,0.53,0.46,0.42,0.44,0.38,0.36, 0.34,0.33,0.31,0.3,0.29,0.28,0.27,0.26,0.25,0.25, 0.24,0.24];
const rec112 = [0,0,0,0,0,0.01,0.01,0.02,0.03,0.05, 0.07,0.1,0.14,0.19,0.26,0.33,0.41,0.5,0.58,0.66, 0.74,0.82,0.9,0.85,0.96,1.04,1.12,1.05,1.45,1.2, 1.08,0.98,0.9,0.82,0.75,0.7,0.65,0.61,0.57,0.54, 0.51,0.49];

const records = [rec01,rec02,rec03,rec04,rec05,rec06,rec07,rec08,rec09,rec10,
  rec11,rec12,rec13,rec14,rec15,rec16,rec17,rec18,rec19,rec20,
  rec21,rec22,rec23,rec24,rec25,rec26,rec27,rec28,rec29,rec30,
  rec31,rec32,rec33,rec34,rec35,rec36,rec37,rec38,rec39,rec40,
  rec41,rec42,rec43,rec44,rec45,rec46,rec47,rec48,rec49,rec50,
  rec51,rec52,rec53,rec54,rec55,rec56,rec57,rec58,rec59,rec60,
  rec61,rec62,rec63,rec64,rec65,rec66,rec67,rec68,rec69,rec70,
  rec71,rec72,rec73,rec74,rec75,rec76,rec77,rec78,rec79,rec80,
  rec81,rec82,rec83,rec84,rec85,rec86,rec87,rec88,rec89,rec90,
  rec91,rec92,rec93,rec94,rec95,rec96,rec97,rec98,rec99,rec100,
  rec101,rec102,rec103,rec104,rec105,rec106,rec107,rec108,rec109,rec110,
  rec111,rec112];

// Percentile curves of the record set (g)
const pctFreq = [0.1,0.13,0.17,0.22,0.28,0.35,0.44,0.55,0.68,0.8,
  0.95,1.1,1.3,1.5,1.75,2.0,2.3,2.6,2.9,3.3,
  3.7,4.2,4.8,5.4,6.1,7.0,8.0,9.2,10.5,12,
  13.7,15.5,18,21,25,30,36,43,50];
const p25 = [0.005,0.01,0.015,0.025,0.035,0.05,0.065,0.09,0.115,0.13,
  0.145,0.16,0.175,0.19,0.21,0.225,0.235,0.245,0.25,0.26,
  0.26,0.26,0.255,0.25,0.24,0.225,0.21,0.19,0.175,0.16,
  0.15,0.14,0.135,0.13,0.125,0.12,0.115,0.115,0.11];
const p50 = [0.01,0.02,0.03,0.04,0.055,0.07,0.09,0.12,0.15,0.18,
  0.22,0.25,0.29,0.33,0.38,0.41,0.43,0.45,0.46,0.47,
  0.455,0.45,0.44,0.435,0.44,0.42,0.39,0.36,0.33,0.31,
  0.29,0.27,0.25,0.235,0.225,0.215,0.21,0.2,0.195];
const p75 = [0.03,0.06,0.09,0.13,0.17,0.22,0.28,0.34,0.41,0.47,
  0.53,0.58,0.61,0.64,0.66,0.69,0.71,0.73,0.75,0.77,
  0.76,0.74,0.72,0.71,0.69,0.67,0.64,0.6,0.57,0.53,
  0.49,0.46,0.44,0.43,0.42,0.4,0.39,0.385,0.38];

// Axis ticks and labels
const decadeTicks = [0.01, 0.1, 1, 10];
const decadeBase = '10';
const decadeExponents = ['-2', '-1', '0', '1'];
const yTicks = [0, 0.5, 1, 1.5, 2, 2.5, 3];
const yTickLabels = ['0', '0.5', '1', '1.5', '2', '2.5', '3'];

const X_MIN = 0.005, X_MAX = 50;
const SERIF = '"Liberation Serif", "Times New Roman", serif';
const TEXT = '#383838';

// minor + major tick positions for the log axis
const xTickValues = [];
[0.001, 0.01, 0.1, 1, 10].forEach(d => {
  for (let m = 1; m <= 9; m++) {
    const v = +(m * d).toPrecision(6);
    if (v >= X_MIN - 1e-12 && v <= X_MAX + 1e-9) xTickValues.push(v);
  }
});
const decadeIndex = v => decadeTicks.findIndex(d => Math.abs(Math.log10(v) - Math.log10(d)) < 1e-6);

const pts = (xs, ys) => xs.map((x, i) => ({ x: x, y: ys[i] }));

const datasets = [
  { label: 'Median', data: pts(pctFreq, p50), borderColor: '#111111', borderWidth: 2.2 },
  { label: '25 percentile', data: pts(pctFreq, p25), borderColor: '#d9363b', borderWidth: 3, borderDash: [11, 8] },
  { label: '75 percentile', data: pts(pctFreq, p75), borderColor: '#34509e', borderWidth: 3, borderDash: [11, 8] }
];
records.forEach((r, i) => {
  datasets.push({
    label: i === 0 ? 'Individual record' : '',
    data: pts(freq, r),
    borderColor: 'rgba(140,140,140,0.7)',
    borderWidth: 1.3
  });
});
datasets.forEach(ds => { ds.pointRadius = 0; ds.tension = 0; ds.fill = false; });

// legend entries: dataset indexes in display order
const legendOrder = [3, 1, 0, 2];

const frame = {
  id: 'frame',
  afterDatasetsDraw(chart) {
    const { ctx, chartArea: a, scales } = chart;
    const x = scales.x, y = scales.y;
    ctx.save();
    ctx.strokeStyle = '#666666';
    ctx.lineWidth = 1;
    ctx.setLineDash([]);
    ctx.strokeRect(a.left + 0.5, a.top + 0.5, a.right - a.left - 1, a.bottom - a.top - 1);
    ctx.beginPath();
    x.ticks.forEach(t => {
      const px = Math.round(x.getPixelForValue(t.value)) + 0.5;
      const len = t.major ? 6 : 3.5;
      ctx.moveTo(px, a.bottom); ctx.lineTo(px, a.bottom - len);
      ctx.moveTo(px, a.top); ctx.lineTo(px, a.top + len);
    });
    y.ticks.forEach(t => {
      const py = Math.round(y.getPixelForValue(t.value)) + 0.5;
      ctx.moveTo(a.left, py); ctx.lineTo(a.left + 6, py);
      ctx.moveTo(a.right, py); ctx.lineTo(a.right - 6, py);
    });
    ctx.stroke();

    // decade labels with raised exponents
    ctx.fillStyle = TEXT;
    ctx.textBaseline = 'middle';
    ctx.textAlign = 'left';
    const baseFont = '21px ' + SERIF, expFont = '14px ' + SERIF;
    decadeTicks.forEach((v, k) => {
      const px = x.getPixelForValue(v);
      ctx.font = baseFont;
      const w1 = ctx.measureText(decadeBase).width;
      ctx.font = expFont;
      const w2 = ctx.measureText(decadeExponents[k]).width;
      const start = px - (w1 + w2) / 2;
      ctx.font = baseFont;
      ctx.fillText(decadeBase, start, a.bottom + 27);
      ctx.font = expFont;
      ctx.fillText(decadeExponents[k], start + w1, a.bottom + 18);
    });
    ctx.restore();
  }
};

const legendBox = {
  id: 'legendBox',
  afterDraw(chart) {
    const { ctx, chartArea: a } = chart;
    const bx = a.left + 19, by = a.top + 14, bw = 218, bh = 106;
    ctx.save();
    ctx.fillStyle = '#ffffff';
    ctx.fillRect(bx, by, bw, bh);
    ctx.strokeStyle = '#555555';
    ctx.lineWidth = 1;
    ctx.strokeRect(bx + 0.5, by + 0.5, bw - 1, bh - 1);
    ctx.font = '22px ' + SERIF;
    ctx.textBaseline = 'middle';
    legendOrder.forEach((idx, i) => {
      const ds = chart.data.datasets[idx];
      const ly = by + 15 + i * 25;
      ctx.strokeStyle = ds.borderColor;
      ctx.lineWidth = ds.borderWidth;
      ctx.setLineDash(ds.borderDash || []);
      ctx.beginPath();
      ctx.moveTo(bx + 5, ly);
      ctx.lineTo(bx + 48, ly);
      ctx.stroke();
      ctx.setLineDash([]);
      ctx.fillStyle = TEXT;
      ctx.fillText(ds.label, bx + 50, ly + 1);
    });
    ctx.restore();
  }
};

new Chart(document.getElementById('c'), {
  type: 'line',
  data: { datasets: datasets },
  plugins: [frame, legendBox],
  options: {
    responsive: false,
    animation: false,
    devicePixelRatio: 1,
    layout: { padding: { left: 0, top: 18, right: 11, bottom: 0 } },
    plugins: { legend: { display: false }, tooltip: { enabled: false } },
    scales: {
      x: {
        type: 'logarithmic',
        min: X_MIN,
        max: X_MAX,
        afterBuildTicks: s => { s.ticks = xTickValues.map(v => ({ value: v, major: decadeIndex(v) >= 0 })); },
        afterFit: s => { s.height = 69; },
        grid: { display: false, drawTicks: false },
        border: { display: false },
        ticks: { display: false, autoSkip: false, maxRotation: 0 },
        title: { display: true, text: 'Frequency (Hz)', font: { family: SERIF, size: 23 }, color: TEXT, padding: { top: 0, bottom: 4 } }
      },
      y: {
        type: 'linear',
        min: 0,
        max: 3,
        afterBuildTicks: s => { s.ticks = yTicks.map(v => ({ value: v })); },
        afterFit: s => { s.width = 76; },
        grid: { display: false, drawTicks: false },
        border: { display: false },
        ticks: {
          padding: 9, font: { family: SERIF, size: 21 }, color: TEXT,
          callback: v => { const k = yTicks.indexOf(v); return k >= 0 ? yTickLabels[k] : ''; }
        },
        title: { display: true, text: 'Spectral acceleration (g)', font: { family: SERIF, size: 22.5 }, color: TEXT, padding: { top: 9, bottom: 0 } }
      }
    }
  }
});
</script>
</body>
</html>
